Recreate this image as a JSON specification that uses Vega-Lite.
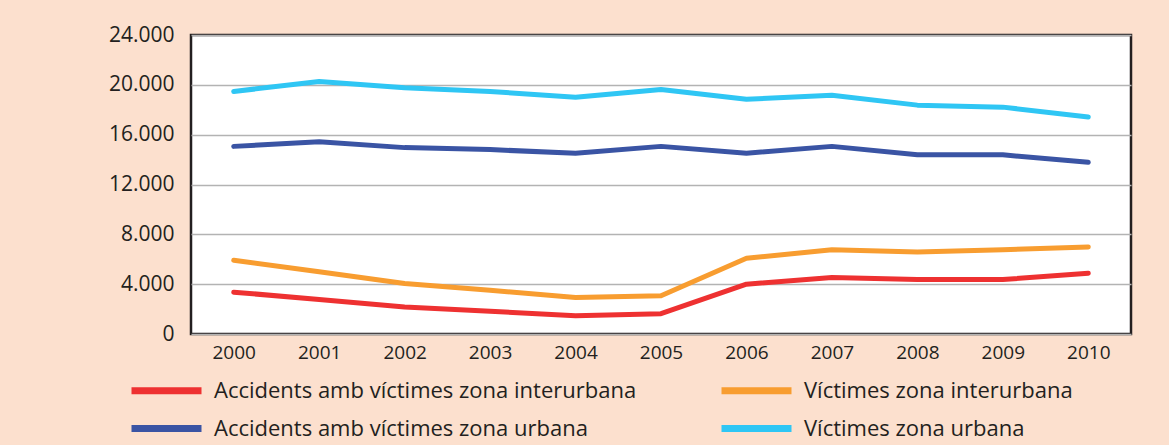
{
  "$schema": "https://vega.github.io/schema/vega-lite/v6.json",
  "autosize": {"type": "none"},
  "padding": {"left": 191, "top": 35, "right": 38, "bottom": 111},
  "width": 940,
  "height": 299,
  "background": "#FCE0CE",
  "config": {
    "view": {"fill": "white", "stroke": "#231F20", "strokeWidth": 2.5},
    "font": "Open Sans"
  },
  "data": {
    "values": [
      {"year": "2000", "serie": "Accidents amb víctimes zona interurbana", "value": 3360},
      {"year": "2001", "serie": "Accidents amb víctimes zona interurbana", "value": 2770},
      {"year": "2002", "serie": "Accidents amb víctimes zona interurbana", "value": 2170},
      {"year": "2003", "serie": "Accidents amb víctimes zona interurbana", "value": 1830},
      {"year": "2004", "serie": "Accidents amb víctimes zona interurbana", "value": 1460},
      {"year": "2005", "serie": "Accidents amb víctimes zona interurbana", "value": 1630},
      {"year": "2006", "serie": "Accidents amb víctimes zona interurbana", "value": 4000},
      {"year": "2007", "serie": "Accidents amb víctimes zona interurbana", "value": 4540},
      {"year": "2008", "serie": "Accidents amb víctimes zona interurbana", "value": 4370},
      {"year": "2009", "serie": "Accidents amb víctimes zona interurbana", "value": 4370},
      {"year": "2010", "serie": "Accidents amb víctimes zona interurbana", "value": 4880},
      {"year": "2000", "serie": "Víctimes zona interurbana", "value": 5920},
      {"year": "2001", "serie": "Víctimes zona interurbana", "value": 5000},
      {"year": "2002", "serie": "Víctimes zona interurbana", "value": 4060},
      {"year": "2003", "serie": "Víctimes zona interurbana", "value": 3510},
      {"year": "2004", "serie": "Víctimes zona interurbana", "value": 2930},
      {"year": "2005", "serie": "Víctimes zona interurbana", "value": 3070},
      {"year": "2006", "serie": "Víctimes zona interurbana", "value": 6080},
      {"year": "2007", "serie": "Víctimes zona interurbana", "value": 6760},
      {"year": "2008", "serie": "Víctimes zona interurbana", "value": 6590},
      {"year": "2009", "serie": "Víctimes zona interurbana", "value": 6760},
      {"year": "2010", "serie": "Víctimes zona interurbana", "value": 6990},
      {"year": "2000", "serie": "Accidents amb víctimes zona urbana", "value": 15060},
      {"year": "2001", "serie": "Accidents amb víctimes zona urbana", "value": 15430},
      {"year": "2002", "serie": "Accidents amb víctimes zona urbana", "value": 14960},
      {"year": "2003", "serie": "Accidents amb víctimes zona urbana", "value": 14800},
      {"year": "2004", "serie": "Accidents amb víctimes zona urbana", "value": 14510},
      {"year": "2005", "serie": "Accidents amb víctimes zona urbana", "value": 15060},
      {"year": "2006", "serie": "Accidents amb víctimes zona urbana", "value": 14510},
      {"year": "2007", "serie": "Accidents amb víctimes zona urbana", "value": 15060},
      {"year": "2008", "serie": "Accidents amb víctimes zona urbana", "value": 14380},
      {"year": "2009", "serie": "Accidents amb víctimes zona urbana", "value": 14380},
      {"year": "2010", "serie": "Accidents amb víctimes zona urbana", "value": 13780},
      {"year": "2000", "serie": "Víctimes zona urbana", "value": 19470},
      {"year": "2001", "serie": "Víctimes zona urbana", "value": 20260},
      {"year": "2002", "serie": "Víctimes zona urbana", "value": 19760},
      {"year": "2003", "serie": "Víctimes zona urbana", "value": 19470},
      {"year": "2004", "serie": "Víctimes zona urbana", "value": 19000},
      {"year": "2005", "serie": "Víctimes zona urbana", "value": 19630},
      {"year": "2006", "serie": "Víctimes zona urbana", "value": 18840},
      {"year": "2007", "serie": "Víctimes zona urbana", "value": 19160},
      {"year": "2008", "serie": "Víctimes zona urbana", "value": 18370},
      {"year": "2009", "serie": "Víctimes zona urbana", "value": 18210},
      {"year": "2010", "serie": "Víctimes zona urbana", "value": 17420}
    ]
  },
  "mark": {"type": "line", "strokeWidth": 5, "strokeCap": "round", "strokeJoin": "round"},
  "encoding": {
    "x": {
      "field": "year",
      "type": "ordinal",
      "scale": {"type": "point", "padding": 0.5},
      "axis": {
        "title": null,
        "labelAngle": 0,
        "labelFontSize": 19,
        "labelColor": "#231F20",
        "labelPadding": 9,
        "ticks": false,
        "domain": false,
        "grid": false
      }
    },
    "y": {
      "field": "value",
      "type": "quantitative",
      "scale": {"domain": [0, 24000], "nice": false},
      "axis": {
        "title": null,
        "values": [0, 4000, 8000, 12000, 16000, 20000, 24000],
        "labelExpr": "replace(format(datum.value, ','), ',', '.')",
        "labelFontSize": 21,
        "labelColor": "#231F20",
        "labelPadding": 17,
        "ticks": false,
        "domain": false,
        "grid": true,
        "gridColor": "#B3B3B3",
        "gridWidth": 1.5
      }
    },
    "color": {
      "field": "serie",
      "type": "nominal",
      "scale": {
        "domain": ["Accidents amb víctimes zona interurbana", "Accidents amb víctimes zona urbana", "Víctimes zona interurbana", "Víctimes zona urbana"],
        "range": ["#EE3131", "#3A54A4", "#F89D30", "#2FC6F4"]
      },
      "legend": {
        "title": null,
        "orient": "none",
        "legendX": -42,
        "legendY": 338,
        "columns": 2,
        "columnPadding": 70,
        "rowPadding": 6,
        "symbolType": "M-2.5,0H2.5",
        "symbolSize": 784,
        "symbolStrokeWidth": 7,
        "labelFontSize": 22,
        "labelColor": "#231F20",
        "labelOffset": 30,
        "labelLimit": 600
      }
    }
  }
}
